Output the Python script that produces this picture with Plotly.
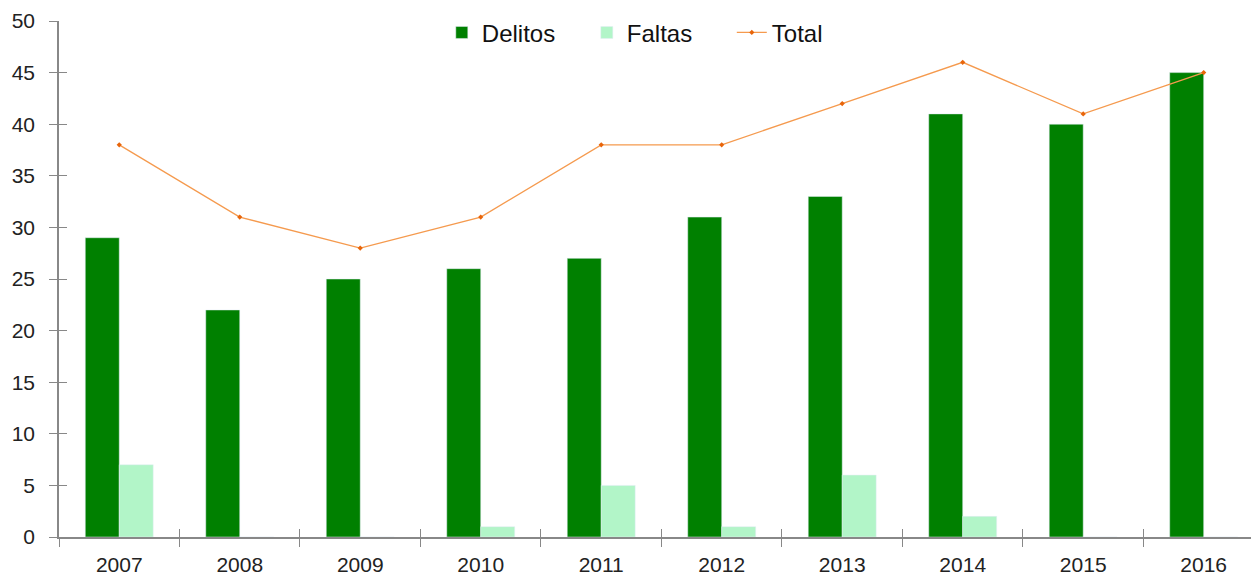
import plotly.graph_objects as go

years = ["2007", "2008", "2009", "2010", "2011", "2012", "2013", "2014", "2015", "2016"]
delitos = [29, 22, 25, 26, 27, 31, 33, 41, 40, 45]
faltas = [7, 0, 0, 1, 5, 1, 6, 2, 0, 0]
total = [38, 31, 28, 31, 38, 38, 42, 46, 41, 45]
y_ticks = [0, 5, 10, 15, 20, 25, 30, 35, 40, 45, 50]

x_range = [-0.5, 9.459]
font_family = "Liberation Sans, Arial, sans-serif"

fig = go.Figure()
fig.add_trace(go.Bar(x=years, y=delitos, name="Delitos", marker_color="#008000"))
fig.add_trace(go.Bar(x=years, y=faltas, name="Faltas", marker_color="#B2F5C8"))
fig.add_trace(go.Scatter(x=years, y=total, name="Total", mode="lines+markers",
                         line=dict(color="#F59A4E", width=1.3),
                         marker=dict(color="#E8650A", size=4, symbol="diamond")))
# invisible helper trace so the overlay axes (inner half of crossing ticks) render
fig.add_trace(go.Scatter(x=years, y=total, xaxis="x2", yaxis="y2", mode="markers",
                         marker=dict(opacity=0), showlegend=False, hoverinfo="skip"))

fig.update_layout(
    width=1251, height=574,
    margin=dict(l=51, r=0, t=13, b=45),
    paper_bgcolor="white", plot_bgcolor="white",
    barmode="group", bargap=0.436, bargroupgap=0,
    font=dict(family=font_family, size=21, color="#222"),
    legend=dict(orientation="h", x=0.319, xanchor="left", y=0.977, yanchor="middle",
                font=dict(size=24, color="#111"), bgcolor="rgba(0,0,0,0)",
                traceorder="normal", itemwidth=30, entrywidth=100,
                entrywidthmode="pixels"),
    showlegend=True,
    xaxis=dict(type="category", range=x_range, showline=True, linecolor="#888",
               linewidth=1.5, ticks="outside", tickson="boundaries", ticklen=8,
               tickcolor="#888", showgrid=False, automargin=False,
               ticklabelstandoff=8, tickfont=dict(size=21)),
    yaxis=dict(range=[0, 50], tickvals=y_ticks, showline=True, linecolor="#888",
               linewidth=1.5, ticks="outside", ticklen=8, tickcolor="#888",
               ticklabelstandoff=10, automargin=False,
               showgrid=False, zeroline=False, tickfont=dict(size=21)),
    xaxis2=dict(type="category", overlaying="x", side="bottom", range=x_range,
                ticks="inside", tickson="boundaries", ticklen=8, tickcolor="#888",
                showticklabels=False, showline=False, showgrid=False,
                automargin=False),
    yaxis2=dict(overlaying="y", side="left", range=[0, 50], tickvals=y_ticks[1:-1],
                ticks="inside", ticklen=8, tickcolor="#888", showticklabels=False,
                showline=False, showgrid=False, zeroline=False, automargin=False),
)
fig.write_html("out.html")
